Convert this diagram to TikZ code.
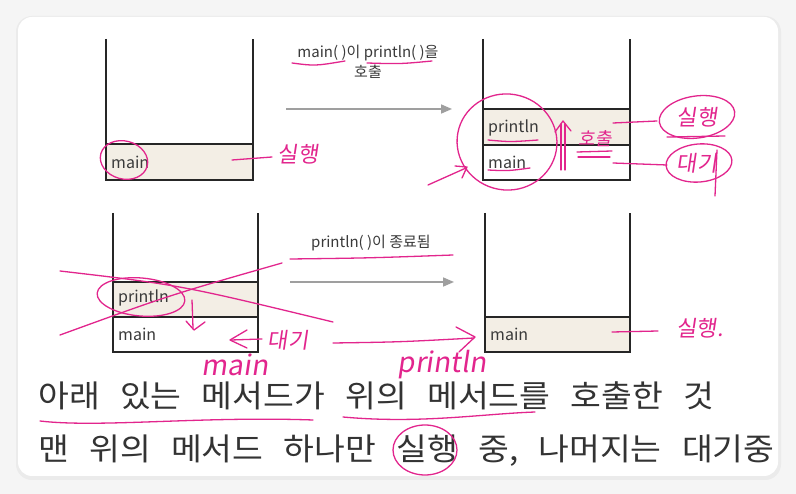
\documentclass[tikz,border=0pt]{standalone}
\usepackage{fontspec}
\setmainfont{Noto Sans CJK KR}
\newfontfamily\boardfont{Noto Sans CJK KR}[WordSpace=2.7, FakeStretch=1.08]
\newfontfamily\handfont{Noto Sans CJK KR}[FakeSlant=0.15]
\usetikzlibrary{arrows.meta}
\definecolor{marker}{HTML}{E2258D}
\definecolor{slotfill}{HTML}{F3EEE5}
\definecolor{ink}{HTML}{3A3A3A}

\tikzset{
  wall/.style={draw=black!85, line width=1.8pt},
  slot/.style={wall, fill=slotfill},
  flow/.style={draw=gray!75, line width=1.6pt, -{Triangle[length=11pt,width=9pt]}},
  arrowtext/.style={text=ink, font=\fontsize{15}{17}\selectfont, inner sep=0pt},
  slotname/.style={text=ink, anchor=west, font=\fontsize{16}{18}\selectfont, inner sep=0pt},
  scribble/.style={draw=marker, line width=1.3pt, line cap=round, line join=round},
  hand/.style={text=marker, font=\handfont\fontsize{22}{22}\selectfont, inner sep=0pt},
  boardtext/.style={text=black!80, anchor=west, font=\boardfont\fontsize{31}{31}\selectfont, inner sep=0pt}
}

\begin{document}
\begin{tikzpicture}[x=1pt,y=-1pt]
\useasboundingbox (0,0) rectangle (796,494);
\fill[gray!8] (0,0) rectangle (796,494);
% card
\fill[gray!16, rounded corners=16pt] (16,16) rectangle (781,480);
\fill[white, rounded corners=14pt] (18,17) rectangle (778,476);

% stack 1 : main only
\draw[slot] (106,144) rectangle (253,180);
\draw[wall] (106,39) -- (106,180) -- (253,180) -- (253,39);
\node[slotname] (main1) at (111,162) {main};

% call arrow
\node[arrowtext] (calltxt) at (368,53) {main(\ )이 println(\ )을};
\node[arrowtext] (calltxt2) at (368,72) {호출};
\coordinate (callfrom) at (286,109);
\coordinate (callto) at (452,109);
\draw[flow] (callfrom) -- (callto);

% stack 2 : println on main
\draw[slot] (483,109) rectangle (630,145);
\draw[wall] (483,145) rectangle (630,180);
\draw[wall] (483,39) -- (483,180) -- (630,180) -- (630,39);
\node[slotname] (print2) at (488,128) {println};
\node[slotname] (main2) at (488,162) {main};

% stack 3 : println ends
\draw[slot] (113,282) rectangle (258,317);
\draw[wall] (113,317) rectangle (258,352);
\draw[wall] (113,213) -- (113,352) -- (258,352) -- (258,213);
\node[slotname] (print3) at (118,298) {println};
\node[slotname] (main3) at (118,334) {main};

% end arrow
\node[arrowtext] (endtxt) at (371,243) {println(\ )이 종료됨};
\coordinate (endfrom) at (290,282);
\coordinate (endto) at (454,282);
\draw[flow] (endfrom) -- (endto);

% stack 4 : main again
\draw[slot] (485,317) rectangle (630,352);
\draw[wall] (485,213) -- (485,352) -- (630,352) -- (630,213);
\node[slotname] (main4) at (490,334) {main};

% bottom lines
\node[boardtext] (line1) at (38,396) {아래 있는 메서드가 위의 메서드를 호출한 것};
\node[boardtext] (line2) at (38,451) {맨 위의 메서드 하나만 실행 중, 나머지는 대기중};

%% pen notes
% top left
\draw[scribble, rotate around={-15:(124,160)}] (124,160) ellipse (24 and 19);
\draw[scribble] (232,160) -- (272,157);
\node[hand] (run1) at (298,154) {실행};
% top middle
\draw[scribble] (292,63) .. controls (315,66) .. (345,61);
\draw[scribble] (367,63) .. controls (400,64) .. (432,61);
% top right
\draw[scribble, rotate around={-10:(507,142)}] (507,142) ellipse (50 and 48);
\draw[scribble] (428,185) -- (466,168);
\draw[scribble] (455,166) -- (467,167) -- (462,178);
\draw[scribble] (488,140) .. controls (510,142) .. (538,140);
\draw[scribble] (488,170) .. controls (508,171) .. (530,168);
\draw[scribble] (561,170) -- (561,124);
\draw[scribble] (565,170) -- (565,124);
\draw[scribble] (555,132) -- (563,121) -- (571,131);
\node[hand, font=\handfont\fontsize{18}{18}\selectfont] (callnote) at (595,139) {호출};
\draw[scribble] (577,152) -- (612,151);
\draw[scribble] (578,157) -- (610,157);
\draw[scribble] (613,123) -- (657,121);
\draw[scribble, rotate around={8:(697,117)}] (697,117) ellipse (38 and 21);
\node[hand] (run2) at (697,117) {실행};
\draw[scribble] (667,137) -- (725,136);
\draw[scribble] (613,163) -- (667,165);
\draw[scribble, rotate around={5:(699,163)}] (699,163) ellipse (33 and 19);
\node[hand] (wait2) at (697,163) {대기};
\draw[scribble] (717,150) -- (715,196);
% bottom left
\draw[scribble] (60,271) .. controls (180,285) .. (333,322);
\draw[scribble] (60,335) .. controls (170,295) .. (282,263);
\draw[scribble, rotate around={-5:(141,297)}] (141,297) ellipse (44 and 19);
\draw[scribble] (192,300) -- (193,328);
\draw[scribble] (186,321) -- (194,330) -- (205,322);
\draw[scribble] (290,259) .. controls (370,258) .. (453,255);
\draw[scribble] (247,330) -- (230,340) -- (247,348);
\draw[scribble] (231,340) -- (262,339);
\node[hand] (wait3) at (288,340) {대기};
\draw[scribble] (333,343) .. controls (400,342) .. (474,338);
\draw[scribble] (456,327) -- (475,337) -- (459,352);
\node[hand, font=\handfont\fontsize{28}{28}\selectfont] (mainnote) at (235,365) {main};
\node[hand, font=\handfont\fontsize{28}{28}\selectfont] (printnote) at (442,365) {println};
% bottom right
\draw[scribble] (612,332) -- (658,331);
\node[hand] (run4) at (700,328) {실행.};
% board text notes
\draw[scribble] (40,421) .. controls (100,428) and (200,416) .. (313,420);
\draw[scribble] (343,417) .. controls (420,424) and (480,414) .. (535,412);
\draw[scribble] (425,450) ellipse (32 and 25);
\end{tikzpicture}
\end{document}
